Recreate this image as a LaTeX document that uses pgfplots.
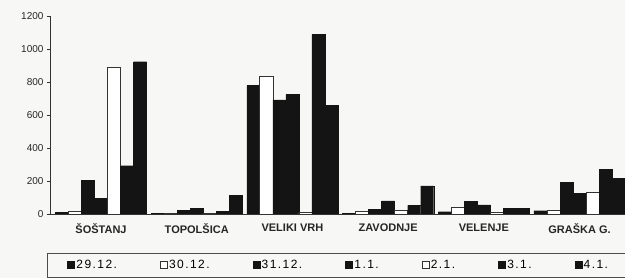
\documentclass[border=0pt]{standalone}
\usepackage{fontspec}
\setmainfont{Liberation Sans}
\newfontfamily\legfont[LetterSpace=12]{Liberation Sans}
\usepackage{pgfplots}
\pgfplotsset{compat=1.18}
\usetikzlibrary{backgrounds}
\definecolor{paper}{HTML}{F7F7F5}
\definecolor{ink}{HTML}{141414}

\begin{document}
\begin{tikzpicture}
\begin{axis}[
  scale only axis, width=575pt, height=198pt,
  xmin=-0.533, xmax=5.475, ymin=0, ymax=1200,
  axis x line*=bottom, axis y line*=left,
  axis line style={black!80, line width=0.8pt, -},
  ytick={0,200,...,1200},
  xtick={0,...,5},
  xticklabels={ŠOŠTANJ, TOPOLŠICA, VELIKI VRH, ZAVODNJE, VELENJE, GRAŠKA G.},
  x tick label style={font=\fontsize{11}{13}\selectfont\bfseries, text=black!85, yshift=-3pt},
  y tick label style={font=\fontsize{10}{12}\selectfont, text=black!85},
  /pgf/number format/assume math mode=true,
  /pgf/number format/set thousands separator={},
  major x tick style={draw=none},
  ytick style={black!80, line width=0.6pt},
  tick align=outside, major tick length=3pt,
  ybar=0pt, bar width=0.136,
  legend columns=7,
  legend style={at={(-0.0052,-0.197)}, anchor=north west, draw=black!70, line width=0.6pt, fill=none,
    inner xsep=20pt, inner ysep=7pt, font=\legfont\fontsize{12}{14}\selectfont,
    /tikz/every even column/.append style={column sep=41.5pt},
    nodes={inner xsep=1.5pt, inner ysep=0pt}},
  every axis plot post/.append style={legend image code/.code={\draw[##1, line width=0.6pt] (0pt,-3.5pt) rectangle (7pt,3.5pt);}},
]
\coordinate (O) at (rel axis cs:0,0);
% order of groups: SOSTANJ, TOPOLSICA, VELIKI VRH, ZAVODNJE, VELENJE, GRASKA G.
\addplot[fill=ink, draw=ink, line width=0.3pt] coordinates {(0,10) (1,5) (2,778) (3,5) (4,14) (5,20)};
\addlegendentry{29.12.}
\addplot[fill=white, draw=black!80, line width=0.8pt] coordinates {(0,15) (1,5) (2,835) (3,15) (4,40) (5,20)};
\addlegendentry{30.12.}
\addplot[fill=ink, draw=ink, line width=0.3pt] coordinates {(0,206) (1,22) (2,692) (3,28) (4,75) (5,192)};
\addlegendentry{31.12.}
\addplot[fill=ink, draw=ink, line width=0.3pt] coordinates {(0,95) (1,35) (2,724) (3,79) (4,55) (5,125)};
\addlegendentry{1.1.}
\addplot[fill=white, draw=black!80, line width=0.8pt] coordinates {(0,890) (1,5) (2,10) (3,20) (4,10) (5,132)};
\addlegendentry{2.1.}
\addplot[fill=ink, draw=ink, line width=0.3pt] coordinates {(0,293) (1,15) (2,1089) (3,52) (4,35) (5,271)};
\addlegendentry{3.1.}
\addplot[fill=ink, draw=ink, line width=0.3pt] coordinates {(0,923) (1,112) (2,657) (3,170) (4,33) (5,216)};
\addlegendentry{4.1.}
\end{axis}
\begin{scope}[on background layer]
\fill[paper] (O) ++(-50pt,-64pt) rectangle ++(625pt,278pt);
\end{scope}
\pgfresetboundingbox
\path[use as bounding box] (O) ++(-50pt,-64pt) rectangle ++(625pt,278pt);
\end{tikzpicture}
\end{document}
